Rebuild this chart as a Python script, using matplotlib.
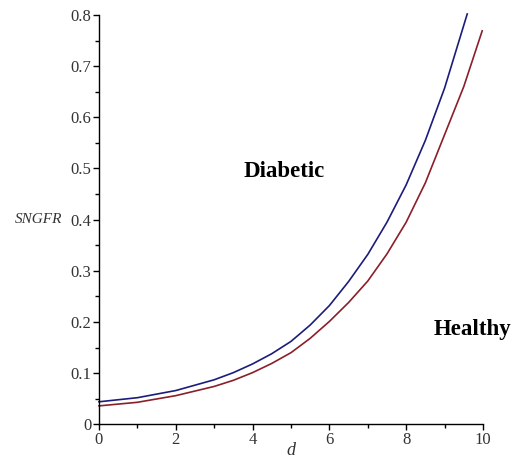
import matplotlib
matplotlib.use("Agg")
import matplotlib.pyplot as plt
from matplotlib.ticker import MultipleLocator

# valores
d_diab = [0, 1, 2, 3, 3.5, 4, 4.5, 5, 5.5, 6, 6.5, 7, 7.5, 8, 8.5, 9, 9.59]
sngfr_diab = [0.044, 0.052, 0.066, 0.087, 0.101, 0.118, 0.138, 0.162, 0.194, 0.232,
              0.279, 0.332, 0.395, 0.468, 0.555, 0.657, 0.802]

d_sano = [0, 1, 2, 3, 3.5, 4, 4.5, 5, 5.5, 6, 6.5, 7, 7.5, 8, 8.5, 9, 9.5, 9.98]
sngfr_sano = [0.036, 0.043, 0.056, 0.074, 0.086, 0.101, 0.119, 0.140, 0.168, 0.201,
              0.238, 0.280, 0.333, 0.395, 0.472, 0.566, 0.660, 0.769]

xticks = [0, 2, 4, 6, 8, 10]
yticks = [0, 0.1, 0.2, 0.3, 0.4, 0.5, 0.6, 0.7, 0.8]
ylabels = ["0", "0.1", "0.2", "0.3", "0.4", "0.5", "0.6", "0.7", "0.8"]

plt.rcParams["font.family"] = ["Liberation Serif", "DejaVu Serif"]

fig = plt.figure(figsize=(5.15, 4.61), dpi=100)
ax = fig.add_axes([0.1922, 0.0796, 0.7456, 0.8879])

ax.plot(d_diab, sngfr_diab, color="#1c1c7a", lw=1.2, clip_on=False)
ax.plot(d_sano, sngfr_sano, color="#8a1f2a", lw=1.2, clip_on=False)

ax.set_xlim(0, 10)
ax.set_ylim(0, 0.8)
ax.spines["top"].set_visible(False)
ax.spines["right"].set_visible(False)
ax.spines["left"].set_linewidth(1.0)
ax.spines["bottom"].set_linewidth(1.0)

ax.set_xticks(xticks)
ax.set_xticklabels([str(t) for t in xticks])
ax.set_yticks(yticks)
ax.set_yticklabels(ylabels)
ax.xaxis.set_minor_locator(MultipleLocator(1))
ax.yaxis.set_minor_locator(MultipleLocator(0.05))
ax.tick_params(which="major", direction="out", length=4, width=1,
               labelsize=12, labelcolor="#333333", pad=1.5)
ax.tick_params(which="minor", direction="out", length=3, width=1)

ax.text(-0.095, 0.5, "SNGFR", transform=ax.transAxes, fontsize=11,
        style="italic", color="#333333", ha="right", va="center")
# etiqueta del eje x, pegada al borde inferior
fig.text(0.5648, 0.004, "d", fontsize=13, style="italic", color="#333333",
         ha="center", va="bottom")

ax.text(4.82, 0.495, "Diabetic", fontsize=16.5, fontweight="bold", ha="center", va="center")
ax.text(9.74, 0.185, "Healthy", fontsize=16.5, fontweight="bold", ha="center", va="center",
        clip_on=False)

fig.savefig("out.png", dpi=100)
